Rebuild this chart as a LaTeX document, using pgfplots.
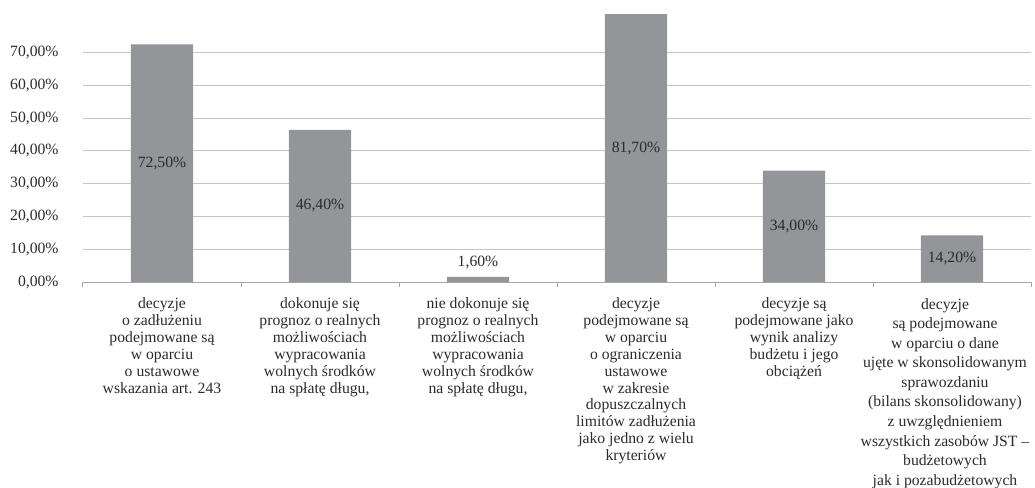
\documentclass[border=0pt]{standalone}
\usepackage{fontspec}
\setmainfont{Liberation Serif}
\usepackage{pgfplots}
\pgfplotsset{compat=1.18}
\usepackage{pgfplotstable}

\definecolor{barfill}{HTML}{949599}
\definecolor{gridgray}{HTML}{C4C4C4}
\definecolor{axisgray}{HTML}{A8A8A8}
\definecolor{txt}{HTML}{2B2B2B}

% share of answers per category, in percent
\pgfplotstableread{
x v
0 72.5
1 46.4
2 1.6
3 81.7
4 34.0
5 14.2
}\shares

\newcommand{\lblfont}{\fontsize{15.75}{17}\selectfont}

\begin{document}
\begin{tikzpicture}
\begin{axis}[
  scale only axis,
  width=948bp, height=282bp,
  xmin=-0.5, xmax=5.5,
  ymin=0, ymax=86,
  axis x line=bottom,
  axis y line=left,
  x axis line style={-, draw=axisgray, line width=1bp},
  y axis line style={draw=none},
  ytick={0,10,...,70},
  ymajorgrids,
  grid style={draw=gridgray, line width=1bp},
  y tick style={draw=none},
  /pgf/number format/assume math mode=true,
  yticklabel={\pgfmathprintnumber[fixed,fixed zerofill,precision=2,use comma]{\tick}\%},
  y tick label style={font=\lblfont, color=txt, inner sep=0pt, anchor=east},
  yticklabel shift=20bp,
  xtick={0,...,5},
  major x tick style={draw=none},
  minor xtick={-0.5,0.5,...,5.5},
  minor x tick style={draw=axisgray, line width=1bp},
  minor tick length=5bp,
  tick align=outside,
  x tick label style={font=\lblfont, color=txt, align=center, anchor=north, inner sep=0pt},
  xticklabel shift=11bp,
  xticklabels={
    {decyzje\\o zadłużeniu\\podejmowane są\\w oparciu\\o ustawowe\\wskazania art. 243},
    {dokonuje się\\prognoz o realnych\\możliwościach\\wypracowania\\wolnych środków\\na spłatę długu,},
    {nie dokonuje się\\prognoz o realnych\\możliwościach\\wypracowania\\wolnych środków\\na spłatę długu,},
    {decyzje\\podejmowane są\\w oparciu\\o ograniczenia\\ustawowe\\w zakresie\\dopuszczalnych\\limitów zadłużenia\\jako jedno z wielu\\kryteriów},
    {decyzje są\\podejmowane jako\\wynik analizy\\budżetu i jego\\obciążeń},
    {\hspace*{-14bp}\begin{tabular}{@{}c@{}}decyzje\\[2.6bp]są podejmowane\\[2.6bp]w oparciu o dane\\[2.6bp]ujęte w skonsolidowanym\\[2.6bp]sprawozdaniu\\[2.6bp](bilans skonsolidowany)\\[2.6bp]z uwzględnieniem\\[2.6bp]wszystkich zasobów JST –\\[2.6bp]budżetowych\\[2.6bp]jak i pozabudżetowych\end{tabular}}
  },
]
\addplot[ybar, bar width=0.393, fill=barfill, draw=none] table[x=x, y=v] {\shares};
% value labels: centred in the bar, above it when the bar is too short
\addplot[draw=none, mark=none,
  point meta=explicit,
  nodes near coords={\pgfmathprintnumber[fixed,fixed zerofill,precision=2,use comma]{\pgfplotspointmeta}\%},
  every node near coord/.append style={anchor=center, font=\lblfont, color=txt, inner sep=0pt}]
  table[x=x, y expr={\thisrow{v}<5 ? \thisrow{v}+4.2 : \thisrow{v}/2}, meta=v] {\shares};
\end{axis}
\pgfresetboundingbox
\path (-83bp,-206bp) rectangle (952bp,282bp);
\end{tikzpicture}
\end{document}
